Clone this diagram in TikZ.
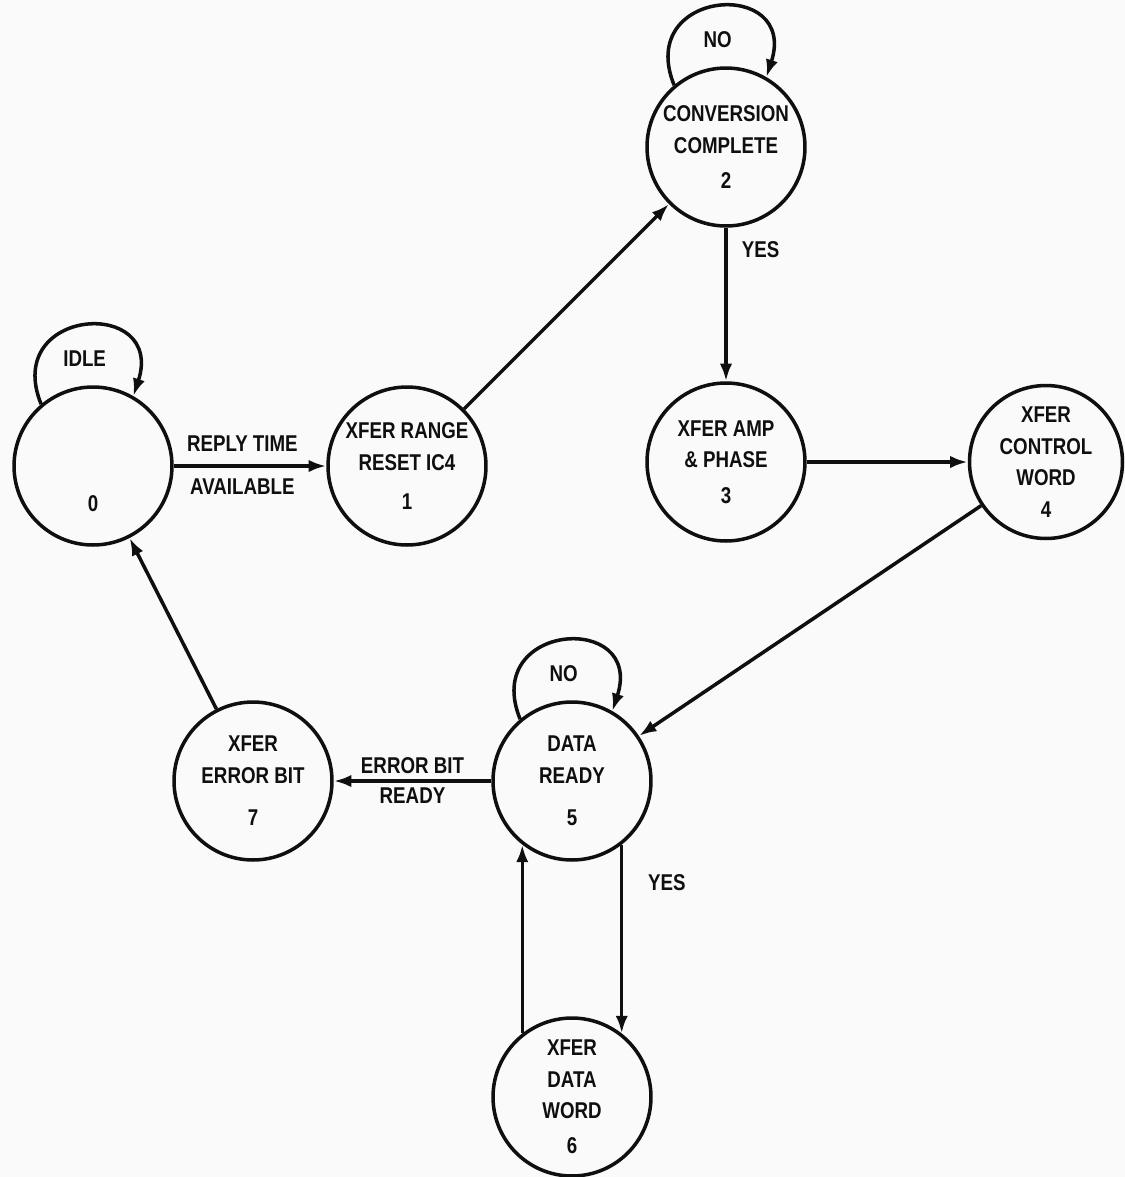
\documentclass[tikz,border=0pt]{standalone}
\usepackage{fontspec}
\setmainfont{Liberation Sans}[FakeStretch=0.82]
\usepackage{tikz}
\usetikzlibrary{arrows.meta, positioning}
\definecolor{INK}{RGB}{15,15,15}
\definecolor{PAPER}{RGB}{250,250,250}

\begin{document}
\begin{tikzpicture}[
  x=0.02cm, y=0.02cm,
  st/.style={draw=INK, circle, line width=2pt, minimum size=3.16cm, inner sep=0,
    align=center, font=\fontsize{13}{18}\selectfont\bfseries, text=INK},
  lbl/.style={font=\fontsize{13}{18}\selectfont\bfseries, text=INK, inner sep=2pt},
  arr/.style={-{Latex[length=10pt,width=7pt]}, line width=2pt, draw=INK}
]
% Paper
\fill[PAPER] (0,0) rectangle (1125,-1177);
\useasboundingbox (0,0) rectangle (1125,-1177);

% States
\node[st] (s0) at (93,-466)   {\mbox{}\\[34pt]0};
\node[st] (s1) at (407,-466)  {XFER RANGE\\RESET IC4\\[4pt]1};
\node[st] (s2) at (726,-147)  {CONVERSION\\COMPLETE\\[2pt]2};
\node[st] (s3) at (726,-462)  {XFER AMP\\\& PHASE\\[2pt]3};
\node[st, minimum size=3.06cm] (s4) at (1046,-462) {XFER\\CONTROL\\WORD\\[0pt]4};
\node[st] (s5) at (572,-781)  {DATA\\READY\\[6pt]5};
\node[st] (s6) at (572,-1097) {XFER\\DATA\\WORD\\[2pt]6};
\node[st] (s7) at (253,-781)  {XFER\\ERROR BIT\\[6pt]7};

% Transitions
\draw[arr] (s0) -- node[lbl, pos=0.45, above=5pt]{REPLY TIME}
  node[lbl, pos=0.45, below=4pt]{AVAILABLE} (s1);
\draw[arr] (s1) -- (s2);
\draw[arr] (s2) -- node[lbl, pos=0.14, right=6pt]{YES} (s3);
\draw[arr] (s3) -- (s4);
\draw[arr] (s4) -- (s5);
\draw[arr] (s5) -- node[lbl, above=1pt]{ERROR BIT} node[lbl, below=1pt]{READY} (s7);
\draw[arr] (s5.308) -- node[lbl, pos=0.2, right=12pt]{YES} (s6.52);
\draw[arr] (s6.128) -- (s5.232);
\draw[arr] (s7) -- (s0);

% Self loops
\foreach \s/\t in {s0/IDLE, s2/NO, s5/NO}
  \draw[arr] (\s.130) .. controls +(112:105) and +(72:105) ..
    node[lbl, below=11pt]{\t} (\s.60);
\end{tikzpicture}
\end{document}
